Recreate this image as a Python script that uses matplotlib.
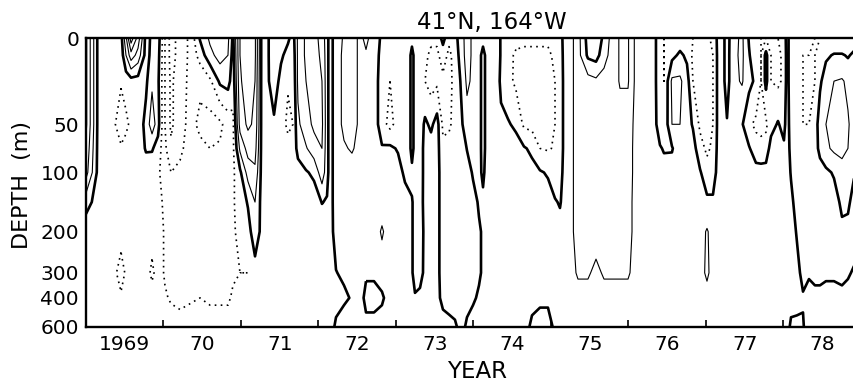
import numpy as np
import matplotlib
matplotlib.use('Agg')
import matplotlib.pyplot as plt

# ---------------- data (temperature anomaly) ----------------
depths = [0, 10, 25, 50, 75, 100, 150, 200, 300, 400, 600]

years = [
    1969.000, 1969.168, 1969.335, 1969.452, 1969.516, 1969.581, 1969.671, 1969.774,
    1969.852, 1969.929, 1970.019, 1970.097, 1970.213, 1970.342, 1970.471, 1970.600,
    1970.729, 1970.832, 1970.897, 1970.987, 1971.090, 1971.181, 1971.271, 1971.323,
    1971.426, 1971.516, 1971.606, 1971.671, 1971.735, 1971.839, 1971.942, 1972.045,
    1972.110, 1972.148, 1972.226, 1972.329, 1972.432, 1972.535, 1972.613, 1972.716,
    1972.819, 1972.923, 1973.026, 1973.116, 1973.168, 1973.206, 1973.245, 1973.310,
    1973.374, 1973.452, 1973.529, 1973.606, 1973.684, 1973.761, 1973.839, 1973.916,
    1973.994, 1974.071, 1974.123, 1974.174, 1974.277, 1974.355, 1974.445, 1974.548,
    1974.652, 1974.755, 1974.858, 1974.961, 1975.052, 1975.116, 1975.194, 1975.245,
    1975.348, 1975.477, 1975.581, 1975.684, 1975.787, 1975.890, 1975.994, 1976.097,
    1976.252, 1976.329, 1976.406, 1976.458, 1976.561, 1976.665, 1976.755, 1976.832,
    1976.923, 1977.013, 1977.090, 1977.168, 1977.206, 1977.271, 1977.335, 1977.465,
    1977.555, 1977.645, 1977.710, 1977.774, 1977.839, 1977.929, 1978.006, 1978.045,
    1978.097, 1978.174, 1978.252, 1978.329, 1978.406, 1978.471, 1978.548, 1978.652,
    1978.755, 1978.832, 1978.910,
]

# one profile (values at the depths above) per time
profiles = [
    [1.6, 1.6, 1.6, 1.6, 1.4, 1.2, 0.2, -0.3, -0.3, -0.3, -0.3],
    [-0.25, -0.25, -0.25, -0.25, -0.25, -0.25, -0.25, -0.25, -0.25, -0.25, -0.25],
    [-0.25, -0.25, -0.35, -0.35, -0.3, -0.25, -0.25, -0.3, -0.35, -0.3, -0.25],
    [-0.2, -0.3, -0.45, -0.75, -0.45, -0.3, -0.25, -0.35, -0.65, -0.45, -0.25],
    [0.9, 0.5, -0.3, -0.6, -0.35, -0.25, -0.25, -0.3, -0.45, -0.35, -0.25],
    [2.3, 1.3, -0.2, -0.4, -0.3, -0.25, -0.25, -0.25, -0.3, -0.25, -0.25],
    [1.3, 0.8, -0.2, -0.3, -0.3, -0.25, -0.25, -0.25, -0.25, -0.25, -0.25],
    [-0.2, -0.2, -0.1, 0.15, 0.05, -0.25, -0.25, -0.25, -0.3, -0.25, -0.25],
    [0.1, 0.15, 0.4, 0.8, 0.05, -0.3, -0.3, -0.3, -0.6, -0.3, -0.25],
    [0.3, 0.2, 0.1, 0.2, -0.2, -0.4, -0.35, -0.3, -0.3, -0.25, -0.25],
    [-1.0, -1.0, -1.0, -1.0, -0.9, -0.8, -0.6, -0.55, -0.55, -0.45, -0.3],
    [-1.7, -1.7, -1.6, -1.6, -1.4, -1.0, -0.8, -0.7, -0.7, -0.55, -0.3],
    [-1.3, -1.3, -1.2, -1.2, -1.1, -0.9, -0.8, -0.7, -0.7, -0.6, -0.35],
    [-0.9, -0.9, -0.9, -0.85, -0.8, -0.75, -0.75, -0.7, -0.7, -0.55, -0.3],
    [0.05, -0.3, -0.9, -1.1, -0.9, -0.75, -0.7, -0.7, -0.7, -0.5, -0.35],
    [0.6, 0.35, -0.6, -1.2, -1.0, -0.8, -0.7, -0.7, -0.7, -0.55, -0.35],
    [0.9, 0.7, 0.1, -1.1, -0.95, -0.8, -0.7, -0.7, -0.7, -0.55, -0.35],
    [0.6, 0.5, 0.2, -0.8, -0.8, -0.75, -0.7, -0.7, -0.65, -0.55, -0.35],
    [-0.1, -0.2, -0.3, -0.6, -0.6, -0.6, -0.55, -0.55, -0.55, -0.45, -0.3],
    [1.5, 1.5, 1.4, 1.2, 0.6, -0.1, -0.3, -0.4, -0.5, -0.4, -0.3],
    [2.0, 2.0, 1.9, 1.6, 1.2, 0.7, 0.05, -0.2, -0.5, -0.4, -0.3],
    [1.6, 1.6, 1.5, 1.4, 1.2, 0.9, 0.5, 0.3, -0.2, -0.35, -0.3],
    [-0.2, -0.2, -0.2, -0.2, -0.2, -0.2, -0.2, -0.15, -0.3, -0.35, -0.3],
    [-0.2, -0.2, -0.2, -0.25, -0.25, -0.25, -0.25, -0.25, -0.25, -0.25, -0.25],
    [0.4, 0.4, 0.35, -0.1, -0.25, -0.25, -0.25, -0.25, -0.25, -0.25, -0.25],
    [0.4, 0.1, -0.2, -0.3, -0.25, -0.25, -0.25, -0.25, -0.25, -0.25, -0.25],
    [0.1, -0.2, -0.45, -0.6, -0.35, -0.25, -0.25, -0.25, -0.25, -0.25, -0.25],
    [-0.2, -0.3, -0.4, -0.5, -0.3, -0.25, -0.25, -0.25, -0.25, -0.25, -0.25],
    [0.6, 0.6, 0.6, 0.4, 0.15, -0.2, -0.25, -0.25, -0.25, -0.25, -0.25],
    [1.1, 1.1, 1.0, 0.8, 0.45, -0.05, -0.25, -0.25, -0.25, -0.25, -0.25],
    [1.2, 1.2, 1.2, 1.1, 0.8, 0.1, -0.25, -0.3, -0.25, -0.25, -0.25],
    [0.8, 0.9, 1.0, 1.1, 1.0, 0.8, 0.02, -0.3, -0.3, -0.25, -0.25],
    [0.2, 0.2, 0.2, 0.2, 0.2, 0.2, -0.05, -0.3, -0.3, -0.3, -0.25],
    [-0.25, -0.25, -0.25, -0.25, -0.25, -0.25, -0.25, -0.25, -0.25, -0.25, -0.25],
    [0.3, 0.3, 0.3, 0.3, 0.3, 0.3, 0.3, 0.25, -0.02, -0.2, 0.1],
    [0.55, 0.6, 0.6, 0.6, 0.45, 0.3, 0.3, 0.3, 0.1, -0.1, 0.3],
    [0.7, 0.7, 0.7, 0.7, 0.55, 0.3, 0.3, 0.3, 0.2, 0.05, 0.3],
    [0.4, 0.4, 0.4, 0.4, 0.35, 0.3, 0.3, 0.3, 0.3, 0.3, 0.3],
    [0.6, 0.45, 0.3, 0.3, 0.3, 0.3, 0.3, 0.3, 0.1, -0.2, 0.2],
    [0.3, 0.3, 0.3, 0.3, 0.3, 0.3, 0.3, 0.3, 0.1, -0.2, 0.2],
    [-0.1, -0.2, -0.3, -0.3, 0.05, 0.3, 0.3, 0.55, 0.3, -0.1, 0.3],
    [-0.2, -0.3, -0.5, -0.65, 0.1, 0.25, 0.3, 0.3, 0.3, 0.3, 0.3],
    [-0.3, -0.3, -0.3, -0.3, -0.05, 0.2, 0.3, 0.3, 0.3, 0.3, 0.3],
    [-0.3, -0.3, -0.3, -0.3, -0.3, -0.1, 0.2, 0.3, 0.3, 0.3, 0.3],
    [-0.3, -0.3, -0.3, -0.3, -0.3, -0.15, 0.1, 0.2, 0.2, 0.25, 0.3],
    [-0.3, 0.3, 0.3, 0.3, 0.3, -0.2, 0.05, 0.05, 0.05, 0.2, 0.3],
    [-0.3, -0.3, -0.3, -0.3, -0.3, -0.3, -0.2, -0.2, -0.2, 0.05, 0.3],
    [-0.3, -0.3, -0.3, -0.3, -0.3, -0.3, -0.2, -0.2, -0.15, 0.1, 0.3],
    [-0.3, -0.4, -0.5, 0.1, 0.2, 0.2, 0.15, 0.1, 0.1, 0.25, 0.3],
    [-0.4, -0.6, -0.7, -0.1, 0.2, 0.3, 0.3, 0.3, 0.3, 0.3, 0.3],
    [-0.4, -0.6, -0.6, 0.2, 0.2, 0.2, 0.2, 0.2, 0.2, 0.2, 0.25],
    [0.2, -0.3, -0.6, -0.6, -0.4, -0.3, -0.3, -0.3, -0.3, -0.2, 0.3],
    [-0.4, -0.6, -0.6, -0.55, -0.4, -0.3, -0.3, -0.3, -0.3, -0.2, 0.15],
    [-0.2, -0.35, -0.4, -0.4, -0.3, -0.25, -0.2, -0.2, -0.2, -0.15, 0.05],
    [0.3, 0.25, 0.05, -0.1, -0.3, -0.3, -0.25, -0.2, -0.2, -0.15, -0.1],
    [0.7, 0.7, 0.6, 0.3, 0.02, -0.2, -0.2, -0.2, -0.15, -0.1, 0.05],
    [0.4, 0.4, 0.4, 0.35, 0.25, 0.05, -0.15, -0.15, -0.1, -0.05, 0.15],
    [0.3, 0.3, 0.3, 0.3, 0.3, 0.2, 0.05, -0.05, -0.05, 0.05, 0.2],
    [0.3, -0.3, -0.3, -0.3, -0.3, -0.15, 0.15, 0.05, 0.05, 0.15, 0.2],
    [0.3, 0.3, 0.3, 0.3, 0.3, 0.3, 0.2, 0.2, 0.15, 0.1, 0.2],
    [0.4, 0.4, 0.35, 0.3, 0.3, 0.3, 0.25, 0.2, 0.2, 0.2, 0.2],
    [-0.05, -0.05, -0.1, 0.1, 0.3, 0.3, 0.25, 0.2, 0.2, 0.2, 0.2],
    [-0.3, -0.4, -0.35, 0.05, 0.25, 0.3, 0.25, 0.2, 0.2, 0.2, 0.2],
    [-0.4, -0.55, -0.6, -0.1, 0.2, 0.25, 0.25, 0.2, 0.2, 0.2, 0.2],
    [-0.4, -0.6, -0.7, -0.6, 0.05, 0.25, 0.25, 0.2, 0.2, 0.2, 0.2],
    [-0.4, -0.6, -0.7, -0.65, -0.1, 0.15, 0.2, 0.2, 0.2, 0.15, -0.1],
    [-0.4, -0.6, -0.7, -0.7, -0.5, 0.05, 0.2, 0.2, 0.2, 0.1, -0.2],
    [-0.4, -0.6, -0.7, -0.7, -0.55, -0.05, 0.2, 0.2, 0.2, 0.1, -0.2],
    [-0.3, -0.4, -0.5, -0.5, -0.45, -0.35, 0.05, 0.2, 0.25, 0.2, 0.1],
    [-0.2, -0.25, -0.3, -0.3, -0.3, -0.2, -0.05, 0.2, 0.25, 0.25, 0.25],
    [0.3, 0.3, 0.3, 0.3, 0.3, 0.3, 0.3, 0.3, 0.3, 0.3, 0.3],
    [0.35, 0.35, 0.35, 0.35, 0.35, 0.35, 0.35, 0.35, 0.35, 0.3, 0.3],
    [0.7, 0.7, 0.7, 0.7, 0.7, 0.7, 0.7, 0.7, 0.55, 0.35, 0.3],
    [-0.2, -0.1, 0.7, 0.7, 0.7, 0.7, 0.7, 0.7, 0.55, 0.35, 0.3],
    [-0.3, -0.2, 0.6, 0.7, 0.7, 0.7, 0.7, 0.7, 0.4, 0.3, 0.3],
    [0.1, 0.3, 0.7, 0.7, 0.7, 0.7, 0.7, 0.7, 0.55, 0.35, 0.3],
    [0.7, 0.7, 0.7, 0.7, 0.7, 0.7, 0.7, 0.7, 0.55, 0.35, 0.3],
    [1.05, 1.05, 1.05, 0.75, 0.7, 0.7, 0.7, 0.7, 0.55, 0.35, 0.3],
    [1.05, 1.05, 1.05, 0.75, 0.7, 0.7, 0.65, 0.65, 0.55, 0.35, 0.3],
    [0.35, 0.35, 0.35, 0.35, 0.35, 0.35, 0.35, 0.35, 0.35, 0.3, 0.3],
    [0.3, 0.3, 0.3, 0.3, 0.3, 0.3, 0.3, 0.3, 0.3, 0.3, 0.3],
    [0.2, 0.2, 0.2, 0.2, 0.15, 0.2, 0.25, 0.3, 0.3, 0.3, 0.3],
    [-0.4, -0.4, -0.4, -0.3, 0.05, 0.2, 0.3, 0.3, 0.3, 0.3, 0.3],
    [-0.5, -0.5, -0.5, -0.4, -0.05, 0.2, 0.3, 0.3, 0.3, 0.3, 0.3],
    [-0.4, -0.15, 0.6, 0.5, -0.05, 0.25, 0.3, 0.3, 0.3, 0.3, 0.3],
    [-0.3, 0.1, 0.6, 0.5, 0.4, 0.3, 0.3, 0.3, 0.3, 0.3, 0.3],
    [-0.3, -0.1, 0.2, 0.2, 0.2, 0.3, 0.3, 0.3, 0.3, 0.3, 0.3],
    [-0.5, -0.6, -0.5, -0.05, 0.2, 0.25, 0.3, 0.3, 0.3, 0.3, 0.3],
    [-0.6, -0.7, -0.7, -0.6, -0.3, 0.05, 0.3, 0.3, 0.3, 0.3, 0.3],
    [-0.6, -0.7, -0.7, -0.7, -0.6, -0.3, 0.1, 0.55, 0.6, 0.3, 0.3],
    [-0.4, -0.5, -0.5, -0.5, -0.4, -0.3, 0.1, 0.3, 0.3, 0.3, 0.3],
    [0.25, 0.25, 0.25, 0.25, 0.25, 0.3, 0.3, 0.3, 0.3, 0.3, 0.3],
    [0.3, 0.3, 0.3, 0.3, 0.3, 0.3, 0.3, 0.3, 0.3, 0.3, 0.3],
    [-0.3, -0.3, -0.3, 0.05, 0.3, 0.3, 0.3, 0.3, 0.3, 0.3, 0.3],
    [0.3, 0.35, 0.35, 0.3, 0.3, 0.3, 0.3, 0.3, 0.3, 0.3, 0.3],
    [0.6, 0.6, 0.55, 0.05, 0.15, 0.3, 0.3, 0.3, 0.3, 0.3, 0.3],
    [-0.05, 0.05, 0.15, -0.4, 0.05, 0.25, 0.3, 0.3, 0.3, 0.3, 0.3],
    [-0.4, -0.4, -0.1, -0.6, -0.3, 0.2, 0.3, 0.3, 0.3, 0.3, 0.3],
    [-0.5, -0.5, -0.5, -0.65, -0.35, 0.2, 0.3, 0.3, 0.3, 0.3, 0.3],
    [-0.5, 0.15, 0.15, -0.6, -0.3, 0.2, 0.3, 0.3, 0.3, 0.3, 0.3],
    [-0.5, -0.5, -0.5, -0.2, 0.2, 0.25, 0.3, 0.3, 0.3, 0.3, 0.3],
    [-0.5, -0.6, -0.6, 0.05, 0.2, 0.3, 0.3, 0.3, 0.3, 0.3, 0.3],
    [-0.3, -0.4, -0.4, -0.2, 0.1, 0.3, 0.3, 0.3, 0.3, 0.3, 0.3],
    [0.2, 0.2, 0.2, 0.3, 0.3, 0.3, 0.2, 0.2, 0.2, 0.3, 0.3],
    [-0.3, -0.3, -0.3, -0.3, -0.2, -0.05, 0.15, 0.25, 0.3, 0.3, -0.15],
    [-0.4, -0.45, -0.45, -0.45, -0.4, -0.35, -0.25, -0.05, 0.15, 0.3, -0.2],
    [-0.4, -0.5, -0.5, -0.5, -0.45, -0.4, -0.3, -0.3, -0.15, 0.05, -0.05],
    [-0.4, -0.5, -0.5, -0.5, -0.45, -0.4, -0.35, -0.3, -0.05, 0.15, 0.3],
    [-0.5, -0.5, -0.5, -0.3, -0.3, -0.4, -0.35, -0.3, -0.1, 0.1, 0.3],
    [-0.5, -0.4, -0.1, 0.3, 0.2, -0.3, -0.35, -0.3, -0.1, 0.1, 0.3],
    [-0.5, -0.1, 0.3, 0.5, 0.4, -0.1, -0.35, -0.3, -0.05, 0.1, 0.3],
    [-0.5, 0.05, 0.5, 0.7, 0.6, 0.05, -0.2, -0.3, -0.05, 0.1, 0.3],
    [-0.5, 0.05, 0.55, 0.7, 0.65, 0.3, 0.1, -0.1, -0.1, 0.1, 0.3],
    [-0.4, -0.05, 0.4, 0.55, 0.5, 0.3, 0.1, -0.15, -0.05, 0.15, 0.3],
    [-0.3, 0.1, 0.3, 0.3, 0.3, 0.05, -0.2, -0.25, 0.05, 0.2, 0.3],
]

positive_levels = [0.5, 1.0, 1.5, 2.0]
negative_levels = [-1.5, -1.0, -0.5]
zero_level = [0.0]

depth_ticks = [0, 50, 100, 200, 300, 400, 600]
year_ticks = [1970, 1971, 1972, 1973, 1974, 1975, 1976, 1977, 1978]
year_label_pos = [1969.5, 1970.5, 1971.5, 1972.5, 1973.5, 1974.5, 1975.5, 1976.5, 1977.5, 1978.5]
year_labels = ['1969', '70', '71', '72', '73', '74', '75', '76', '77', '78']

# ---------------- stretched depth axis (as in the original) ----------------
_scale_d = np.array([0, 50, 100, 200, 300, 400, 600], float)
_scale_p = np.array([0, 86, 134, 193, 234, 259, 288], float)


def _fwd(d):
    d = np.asarray(d, float)
    y = np.interp(d, _scale_d, _scale_p)
    s_end = (_scale_p[-1] - _scale_p[-2]) / (_scale_d[-1] - _scale_d[-2])
    s_beg = (_scale_p[1] - _scale_p[0]) / (_scale_d[1] - _scale_d[0])
    y = np.where(d > _scale_d[-1], _scale_p[-1] + (d - _scale_d[-1]) * s_end, y)
    y = np.where(d < 0, d * s_beg, y)
    return y


def _inv(y):
    y = np.asarray(y, float)
    d = np.interp(y, _scale_p, _scale_d)
    s_end = (_scale_d[-1] - _scale_d[-2]) / (_scale_p[-1] - _scale_p[-2])
    s_beg = (_scale_d[1] - _scale_d[0]) / (_scale_p[1] - _scale_p[0])
    d = np.where(y > _scale_p[-1], _scale_d[-1] + (y - _scale_p[-1]) * s_end, d)
    d = np.where(y < 0, y * s_beg, d)
    return d


plt.rcParams['font.family'] = ['DejaVu Sans']

fig = plt.figure(figsize=(8.54, 3.82), dpi=100)
ax = fig.add_axes([86 / 854, 1 - 327 / 382, 768 / 854, 289 / 382])
ax.set_yscale('function', functions=(_fwd, _inv))

X = np.array(years)
Y = np.array(depths, float)
Z = np.array(profiles, float).T

ax.contour(X, Y, Z, levels=positive_levels, colors='k', linewidths=0.8,
           linestyles='solid')
neg = ax.contour(X, Y, Z, levels=negative_levels, colors='k', linewidths=1.2,
                 linestyles='dotted')
neg.set_linestyle((0, (1, 2.6)))
ax.contour(X, Y, Z, levels=zero_level, colors='k', linewidths=1.9,
           linestyles='solid')

ax.set_xlim(1969.0, 1978.91)
ax.set_ylim(600, 0)

for side in ['left', 'top', 'bottom']:
    ax.spines[side].set_linewidth(1.7)
ax.spines['right'].set_visible(False)

ax.set_yticks(depth_ticks)
ax.set_yticklabels([str(d) for d in depth_ticks])
ax.tick_params(axis='y', length=0, pad=5, labelsize=14.5)

ax.set_xticks(year_ticks)
ax.set_xticklabels([])
ax.set_xticks(year_label_pos, minor=True)
ax.set_xticklabels(year_labels, minor=True)
ax.tick_params(axis='x', which='major', direction='in', length=5, width=1.2)
ax.tick_params(axis='x', which='minor', length=0, pad=6, labelsize=14.5)

fig.text(492 / 854, 1 - 22 / 382, '41°N, 164°W', ha='center', va='center',
         fontsize=16.5)
fig.text(477 / 854, 1 - 371 / 382, 'YEAR', ha='center', va='center', fontsize=16.5)
fig.text(22 / 854, 1 - 185 / 382, 'DEPTH  (m)', rotation=90, ha='center',
         va='center', fontsize=16)

fig.savefig('out.png', dpi=100)
